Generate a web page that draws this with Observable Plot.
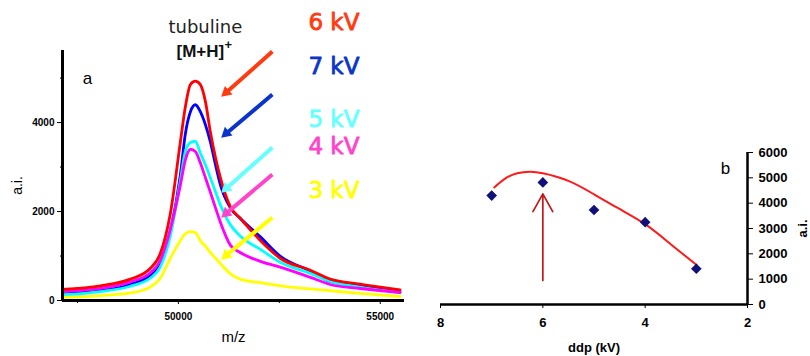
<!DOCTYPE html>
<html><head><meta charset="utf-8">
<script src="https://cdn.jsdelivr.net/npm/d3@7"></script>
<script src="https://cdn.jsdelivr.net/npm/@observablehq/plot@0.6"></script>
<style>
body{margin:0;background:#fff;}
#wrap{display:flex;width:810px;height:356px;overflow:hidden;background:#fff;}
#wrap svg{overflow:visible;}
#left g[aria-label="y-axis tick label"] text,
#left g[aria-label="x-axis tick label"] text,
#right g[aria-label="y-axis tick label"] text,
#right g[aria-label="x-axis tick label"] text{font-weight:bold;}
</style></head><body><div id="wrap"><div id="left"></div><div id="right"></div></div>
<script>
// ---- panel a: MALDI spectra (m/z vs a.i.) ----
const mz  = [47130, 48070, 48810, 49300, 49550, 49800, 50050, 50170, 50300, 50420, 50540, 50670, 50790, 50920, 51040, 51290, 51530, 52030, 52520, 53270, 53760, 54500, 55490];
const kv6 = [250, 330, 480, 720, 1050, 1950, 3570, 4340, 4860, 4930, 4860, 4470, 3800, 3210, 2760, 2100, 1850, 1350, 950, 680, 480, 370, 240];
const kv7 = [150, 220, 360, 560, 800, 1550, 2830, 3730, 4250, 4400, 4250, 3950, 3570, 3050, 2600, 2080, 1850, 1430, 1000, 660, 430, 330, 200];
const kv5 = [130, 200, 320, 500, 750, 1450, 2700, 3340, 3550, 3580, 3320, 3050, 2760, 2440, 2150, 1700, 1450, 1150, 860, 610, 430, 300, 180];
const kv4 = [200, 270, 420, 620, 900, 1600, 2600, 3150, 3400, 3350, 3100, 2760, 2440, 2080, 1760, 1240, 1080, 880, 750, 520, 360, 270, 180];
const kv3 = [70, 110, 170, 300, 500, 950, 1350, 1500, 1550, 1530, 1350, 1220, 1080, 950, 830, 600, 480, 400, 330, 260, 220, 160, 90];
const seriesNames = ["6 kV", "7 kV", "5 kV", "4 kV", "3 kV"];
const yTicksA = [0, 2000, 4000];
const yMinorA = [1000, 3000, 5000];
const xTicksA = [50000, 55000];
const xMinorA = [47500, 52500];
const mzDomain = [47130, 55600];
const aiDomainA = [0, 5620];

// ---- panel b: peak intensity vs ddp ----
const ddp = [7, 6, 5, 4, 3];
const peakAi = [4300, 4820, 3730, 3250, 1410];
const fitDdp = [6.95, 6.75, 6.5, 6.25, 6, 5.5, 5, 4.5, 4, 3.5, 3];
const fitAi  = [4620, 4950, 5180, 5240, 5180, 4880, 4350, 3770, 3170, 2380, 1570];
const xTicksB = [8, 6, 4, 2];
const yTicksB = [0, 1000, 2000, 3000, 4000, 5000, 6000];

// styles
const lineColor  = {"6 kV": "#ff0000", "7 kV": "#0000ff", "5 kV": "#00ffff", "4 kV": "#ff00ff", "3 kV": "#ffff00"};
const labelColor = {"6 kV": "#ff3a10", "7 kV": "#0a35c8", "5 kV": "#66ffff", "4 kV": "#ff44cc", "3 kV": "#ffff00"};
const spectra = {"6 kV": kv6, "7 kV": kv7, "5 kV": kv5, "4 kV": kv4, "3 kV": kv3};
const drawOrder = ["3 kV", "7 kV", "5 kV", "4 kV", "6 kV"];
const fmt = d3.format("d");

const tidy = s => mz.map((m, i) => ({mz: m, ai: spectra[s][i]}));

// annotation placement (data units of panel a)
const labelAnchors = [
  {s: "6 kV", mz: 53220, ai: 6247},
  {s: "7 kV", mz: 53220, ai: 5258},
  {s: "5 kV", mz: 53220, ai: 4067},
  {s: "4 kV", mz: 53220, ai: 3460},
  {s: "3 kV", mz: 53220, ai: 2472}
];
const arrowAnchors = [
  {s: "6 kV", x1: 52327, y1: 5595, x2: 51040, y2: 4561},
  {s: "7 kV", x1: 52327, y1: 4629, x2: 51040, y2: 3640},
  {s: "5 kV", x1: 52327, y1: 3438, x2: 51040, y2: 2404},
  {s: "4 kV", x1: 52327, y1: 2831, x2: 51040, y2: 1843},
  {s: "3 kV", x1: 52327, y1: 1865, x2: 51040, y2: 899}
];
// shaft ends near the head centre (head centre sits ~8px back from the tip)
const shafts = arrowAnchors.map(d => ({...d, x2: d.x2 + 145, y2: d.y2 + 116}));

const left = Plot.plot({
  width: 430, height: 356,
  marginLeft: 62, marginRight: 26, marginTop: 50, marginBottom: 56,
  style: {fontFamily: "'Liberation Sans', Arial, sans-serif", color: "#000", background: "transparent", overflow: "visible"},
  x: {domain: mzDomain, label: null},
  y: {domain: aiDomainA, label: null},
  marks: [
    ...drawOrder.map(s => Plot.line(tidy(s), {x: "mz", y: "ai", stroke: lineColor[s], strokeWidth: 2.8, curve: "monotone-x"})),
    Plot.ruleX([mzDomain[0]], {y1: aiDomainA[0], y2: aiDomainA[1], strokeWidth: 3}),
    Plot.ruleY([0], {x1: mzDomain[0], x2: mzDomain[1], strokeWidth: 3}),
    Plot.axisY({ticks: yTicksA, tickSize: 5, tickPadding: 3, tickFormat: fmt, fontSize: 10, label: null}),
    Plot.axisY({ticks: yMinorA, tickSize: 2, tickFormat: () => "", label: null}),
    Plot.axisX({ticks: xTicksA, tickSize: 4, tickPadding: 8, tickFormat: fmt, fontSize: 10, label: null}),
    Plot.axisX({ticks: xMinorA, tickSize: 3, tickFormat: () => "", label: null}),
    Plot.link(shafts, {x1: "x1", y1: "y1", x2: "x2", y2: "y2", stroke: d => labelColor[d.s], strokeWidth: 4}),
    Plot.dot(arrowAnchors, {x: "x2", y: "y2", dx: 5.8, dy: -5.2, symbol: "triangle2", r: 5.5, rotate: 228.5, fill: d => labelColor[d.s], stroke: "none"}),
    Plot.text(labelAnchors, {x: "mz", y: "ai", text: "s", fill: d => labelColor[d.s], stroke: d => labelColor[d.s], strokeWidth: 0.8, textAnchor: "start", fontSize: 23, fontFamily: "'DejaVu Sans', sans-serif"}),
    Plot.text(["tubuline"], {x: 50668, y: 6134, text: d => d, fontSize: 18, fill: "#222", fontFamily: "'DejaVu Sans', sans-serif"}),
    Plot.text(["[M+H]"], {x: 50545, y: 5595, text: d => d, fontSize: 17, fontWeight: "bold", fill: "#111"}),
    Plot.text(["+"], {x: 51238, y: 5740, text: d => d, fontSize: 13, fontWeight: "bold", fill: "#111"}),
    Plot.text(["a"], {frameAnchor: "top-left", dx: 25, dy: 28, textAnchor: "middle", lineAnchor: "middle", text: d => d, fontSize: 17}),
    Plot.text(["a.i."], {frameAnchor: "left", dx: -45, dy: 10, rotate: -90, textAnchor: "middle", lineAnchor: "middle", text: d => d, fontSize: 14}),
    Plot.text(["m/z"], {frameAnchor: "bottom", dy: 37, textAnchor: "middle", lineAnchor: "middle", text: d => d, fontSize: 15})
  ]
});

const fit = fitDdp.map((x, i) => ({ddp: x, ai: fitAi[i]}));
const pts = ddp.map((x, i) => ({ddp: x, ai: peakAi[i]}));

const right = Plot.plot({
  width: 380, height: 356,
  marginLeft: 10, marginRight: 63, marginTop: 152, marginBottom: 52,
  style: {fontFamily: "'Liberation Sans', Arial, sans-serif", color: "#000", background: "transparent", overflow: "visible"},
  x: {domain: [8, 2], label: null},
  y: {domain: [0, 6000], label: null},
  marks: [
    Plot.ruleY([0], {x1: 8, x2: 2, strokeWidth: 2.5}),
    Plot.ruleX([2], {y1: 0, y2: 6000, strokeWidth: 2.5}),
    Plot.axisX({ticks: xTicksB, tickSize: 4, tickPadding: 9, tickFormat: fmt, fontSize: 13, label: null}),
    Plot.axisY({anchor: "right", ticks: yTicksB, tickSize: 5, tickPadding: 6, tickFormat: fmt, fontSize: 13, label: null}),
    Plot.line(fit, {x: "ddp", y: "ai", stroke: "#ff1a1a", strokeWidth: 2, curve: "natural"}),
    Plot.dot(pts, {x: "ddp", y: "ai", symbol: "diamond2", r: 4.8, fill: "#10107a", stroke: "none"}),
    Plot.arrow([{x: 6, y1: 950, y2: 4370}], {x1: "x", x2: "x", y1: "y1", y2: "y2", stroke: "#c41818", strokeWidth: 1.7, headLength: 18, headAngle: 58}),
    Plot.text(["b"], {frameAnchor: "top-right", dx: -22, dy: 16, textAnchor: "middle", lineAnchor: "middle", text: d => d, fontSize: 17}),
    Plot.text(["a.i."], {frameAnchor: "right", dx: 55, dy: 0, rotate: -90, textAnchor: "middle", lineAnchor: "middle", text: d => d, fontSize: 13, fontWeight: "bold"}),
    Plot.text(["ddp (kV)"], {frameAnchor: "bottom", dy: 43, textAnchor: "middle", lineAnchor: "middle", text: d => d, fontSize: 13, fontWeight: "bold"})
  ]
});

document.getElementById("left").appendChild(left);
document.getElementById("right").appendChild(right);
</script>
</body></html>
